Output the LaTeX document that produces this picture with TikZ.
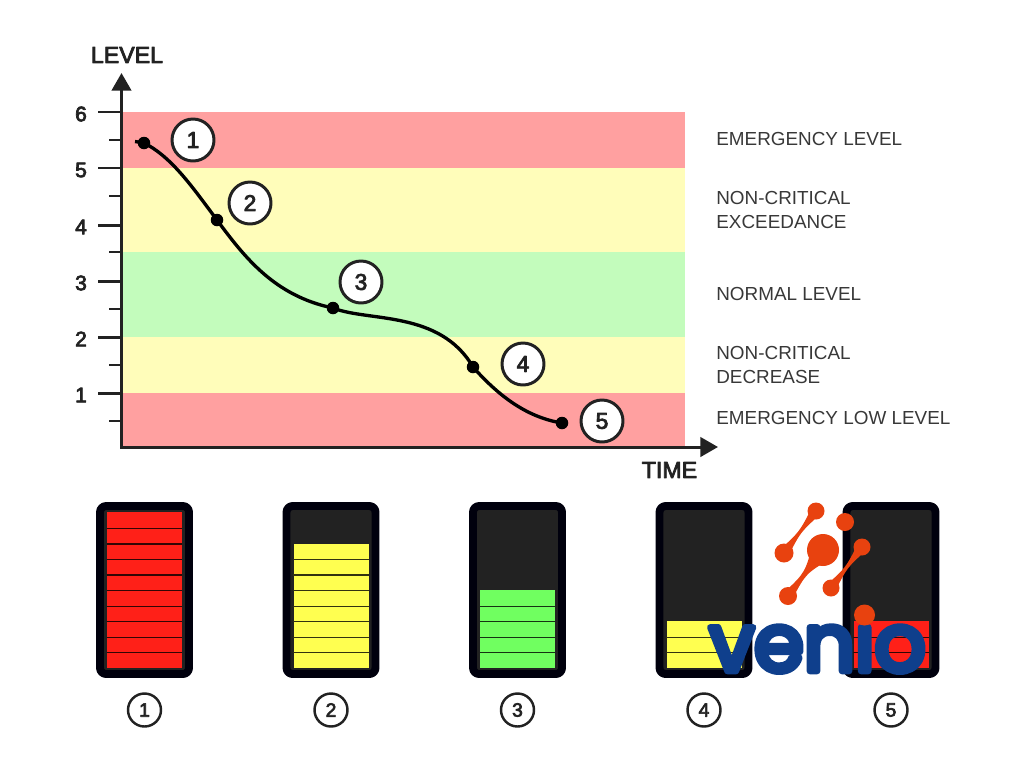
\documentclass[tikz,border=0pt]{standalone}
\usepackage{fontspec}
\setmainfont{Liberation Sans}
\newfontfamily\semifont[FakeBold=3.5]{Liberation Sans}
\newfontfamily\logofont[FakeBold=8]{Poppins}
\usepackage{tikz}
\usetikzlibrary{arrows.meta, positioning, calc}

\definecolor{bandred}{HTML}{FFA0A0}
\definecolor{bandyellow}{HTML}{FFFDBA}
\definecolor{bandgreen}{HTML}{C3FCBC}
\definecolor{inkdark}{HTML}{222222}
\definecolor{cellred}{HTML}{FF2018}
\definecolor{cellyellow}{HTML}{FFFF50}
\definecolor{cellgreen}{HTML}{70FF60}
\definecolor{logoorange}{HTML}{E8420F}
\definecolor{logoblue}{HTML}{0F3F8C}

\tikzset{
  band/.style={draw=none, inner sep=0pt, anchor=north west, minimum width=562*0.02cm},
  statelabel/.style={inner sep=0pt, anchor=west, align=left, text=inkdark!90, font=\fontsize{10.75pt}{13.9pt}\selectfont},
  axislabel/.style={inner sep=0pt, text=inkdark, font=\fontsize{13.2pt}{14pt}\semifont},
  ticklabel/.style={inner sep=0pt, text=inkdark, font=\fontsize{12pt}{12pt}\semifont},
  curvebadge/.style={draw=inkdark, fill=white, circle, line width=1.7pt, minimum size=42*0.02cm, inner sep=0pt, font=\fontsize{13pt}{14pt}\semifont, text=inkdark},
  footbadge/.style={draw=inkdark, fill=white, circle, line width=1.4pt, minimum size=33*0.02cm, inner sep=0pt, font=\fontsize{11pt}{12pt}\semifont, text=inkdark},
  dot/.style={fill=black, circle, minimum size=12.5*0.02cm, inner sep=0pt},
  batcase/.style={draw=black!95!blue, fill=inkdark, line width=4.5pt, rounded corners=3.5pt, minimum width=89*0.02cm, minimum height=168*0.02cm, inner sep=0pt},
  batcell/.style={draw=none, minimum width=75*0.02cm, minimum height=15.55*0.02cm, inner sep=0pt},
  blob/.style={fill=logoorange, draw=none, circle, inner sep=0pt}
}

\begin{document}
\begin{tikzpicture}[x=0.02cm,y=-0.02cm,line cap=butt,line join=round]
\useasboundingbox (0,0) rectangle (1024,768);

% Level bands
\foreach \name/\y/\h/\col in {
  emergtop/112/56/bandred,
  warntop/168/84/bandyellow,
  normal/252/85/bandgreen,
  warnlow/337/56/bandyellow,
  emerglow/393/54/bandred} {
  \node[band, fill=\col, minimum height=\h*0.02cm] (\name) at (123,\y) {};
}

% Axes
\coordinate (origin) at (121.5,447);
\coordinate (ytip) at (121.5,73);
\coordinate (xtip) at (718,447);
\draw[-{Triangle[length=10pt,width=11pt]}, draw=inkdark, fill=inkdark, line width=1.7pt, line cap=rect] (origin) -- (ytip);
\draw[-{Triangle[length=10pt,width=11pt]}, draw=inkdark, fill=inkdark, line width=1.7pt, line cap=rect] (origin) -- (xtip);
\node[axislabel] (levellabel) at (127,55) {LEVEL};
\node[axislabel] (timelabel) at (669.5,470) {TIME};

% Ticks
\foreach \y/\v in {112/6,168/5,225/4,281/3,337/2,393/1} {
  \coordinate (major\v) at (98,\y);
  \coordinate (axis\v) at (121.5,\y);
  \draw[draw=inkdark, line width=1.7pt] (major\v) -- (axis\v);
  \node[ticklabel] (num\v) at (81,\y+2) {\v};
}
\foreach \y/\v in {140/a,196/b,252/c,309/d,365/e,421/f} {
  \coordinate (minor\v) at (109,\y);
  \coordinate (axis\v) at (121.5,\y);
  \draw[draw=inkdark, line width=0.9pt] (minor\v) -- (axis\v);
}

% State labels
\node[statelabel] (lab1) at (716,139) {EMERGENCY LEVEL};
\node[statelabel] (lab2) at (716,210) {NON-CRITICAL\\EXCEEDANCE};
\node[statelabel] (lab3) at (716,294) {NORMAL LEVEL};
\node[statelabel] (lab4) at (716,365) {NON-CRITICAL\\DECREASE};
\node[statelabel] (lab5) at (716,418) {EMERGENCY LOW LEVEL};

% Level curve
\coordinate (start) at (135,141.5);
\node[dot] (p1) at (144,143) {};
\node[dot] (p2) at (217,220) {};
\node[dot] (p3) at (333,308) {};
\node[dot] (p4) at (473,367) {};
\node[dot] (p5) at (562,423) {};
\draw[black, line width=1.9pt] (start) -- (p1.center)
  .. controls (172,157) and (193,188) .. (p2.center)
  .. controls (245,258) and (275,296) .. (p3.center)
  .. controls (368,322) and (440,310) .. (p4.center)
  .. controls (497,394) and (525,417) .. (p5.center);

% Numbered badges on the curve
\foreach \x/\y/\n in {193/140/1, 250/203/2, 361/282/3, 523/364/4, 602/421/5} {
  \node[curvebadge] (badge\n) at (\x,\y) {\n};
}

% Batteries
\foreach \x/\n/\cells/\col in {144.5/1/10/cellred, 331/2/8/cellyellow, 517.5/3/5/cellgreen, 704/4/3/cellyellow, 891/5/3/cellred} {
  \node[batcase] (bat\n) at (\x,590) {};
  \foreach \c in {1,...,\cells} {
    \node[batcell, fill=\col] (cell\n-\c) at (\x,660.2-15.55*\c+15.55) {};
  }
  \foreach \c in {2,...,\cells} {
    \draw[draw=black!80!\col, line width=0.7pt] (cell\n-\c.south west) -- (cell\n-\c.south east);
  }
  \node[footbadge] (foot\n) at (\x,710) {\n};
}

% Logo
\node[blob, minimum size=32*0.02cm] (hub) at (823,550) {};
\node[blob, minimum size=17*0.02cm] (top) at (816,511) {};
\node[blob, minimum size=19*0.02cm] (left) at (784,553) {};
\node[blob, minimum size=18*0.02cm] (low) at (788,596) {};
\node[blob, minimum size=18*0.02cm] (corner) at (845,522) {};
\node[blob, minimum size=17*0.02cm] (right) at (862,547) {};
\node[blob, minimum size=17*0.02cm] (mid) at (831,588) {};
\foreach \a/\b/\ra/\rb in {top/left/3/3, right/mid/3/3, hub/low/7/3} {
  \coordinate (m) at ($(\a)!.5!(\b)$);
  \fill[logoorange] ($(\a.center)!\ra pt!90:(\b.center)$)
    .. controls ($(m)!0.3pt!90:(\b.center)$) .. ($(\b.center)!\rb pt!-90:(\a.center)$)
    -- ($(\b.center)!\rb pt!90:(\a.center)$)
    .. controls ($(m)!0.3pt!-90:(\b.center)$) .. ($(\a.center)!\ra pt!-90:(\b.center)$) -- cycle;
}
\node[inner sep=0pt, text=logoblue, font=\fontsize{45.5pt}{45.5pt}\logofont] (wordmark) at (817.5,641) {venio};
\node[blob, minimum size=21*0.02cm] (idot) at (864.5,615) {};
\end{tikzpicture}
\end{document}
